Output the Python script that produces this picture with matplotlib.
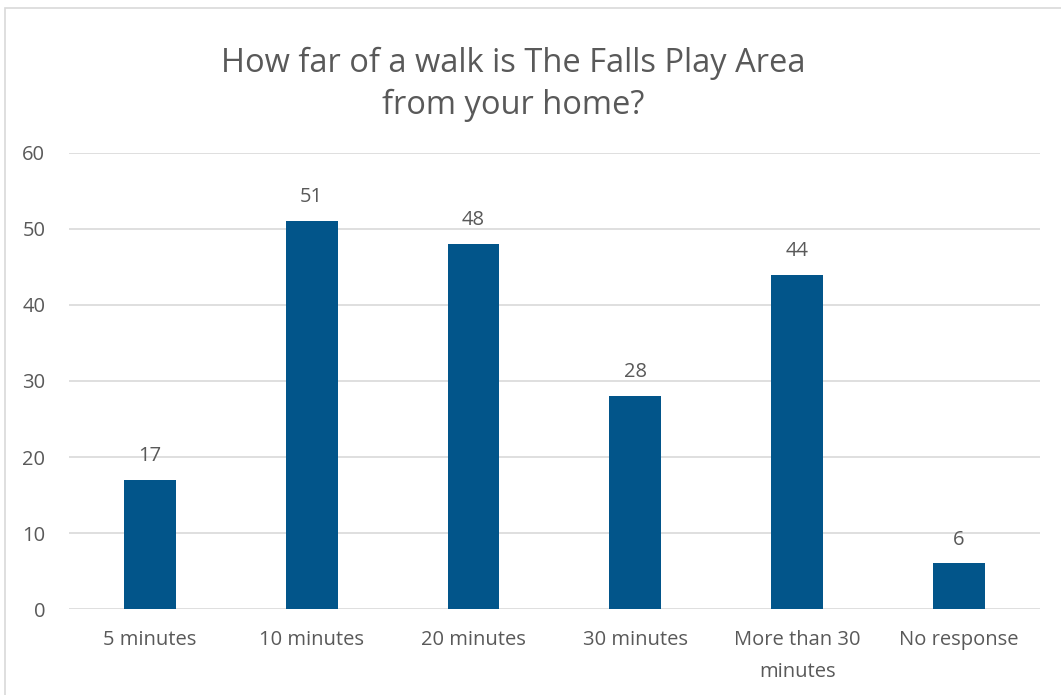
import matplotlib
matplotlib.use("Agg")
import matplotlib.pyplot as plt
from matplotlib.patches import Rectangle

plt.rcParams['font.family'] = ['Open Sans', 'DejaVu Sans']

categories = ["5 minutes", "10 minutes", "20 minutes", "30 minutes", "More than 30\nminutes", "No response"]
values = [17, 51, 48, 28, 44, 6]
yticks = [0, 10, 20, 30, 40, 50, 60]
title = "How far of a walk is The Falls Play Area\nfrom your home?"

text_color = "#595959"
bar_color = "#02558A"
grid_color = "#D9D9D9"

fig = plt.figure(figsize=(10.61, 6.95), dpi=100)
ax = fig.add_axes([0.065, 0.1237, 0.915, 0.6562])

x = list(range(len(categories)))
bars = ax.bar(x, values, width=0.32, color=bar_color, zorder=3)
for xi, v in zip(x, values):
    ax.annotate(str(v), (xi, v), xytext=(0, 10), textcoords="offset points",
                ha="center", va="bottom", fontsize=14.5, color=text_color)

ax.set_xlim(-0.5, len(categories) - 0.5)
ax.set_ylim(0, 60)
ax.set_yticks(yticks)
ax.set_xticks(x)
ax.set_xticklabels(categories, fontsize=14.5, color=text_color, linespacing=1.8)
ax.tick_params(axis='y', labelsize=14.5, labelcolor=text_color, length=0, pad=17)
ax.tick_params(axis='x', length=0, pad=15)
ax.grid(axis='y', color=grid_color, linewidth=1.2, zorder=0)
for s in ax.spines.values():
    s.set_visible(False)

fig.text(0.484, 0.933, title, ha="center", va="top", fontsize=23.5, color=text_color, linespacing=1.35)

fig.patches.append(Rectangle((5/1061, -0.1), 1.2, 1 - 8/695 + 0.1, transform=fig.transFigure,
                             fill=False, edgecolor="#D9D9D9", linewidth=1.2))

fig.savefig("out.png", dpi=100)
